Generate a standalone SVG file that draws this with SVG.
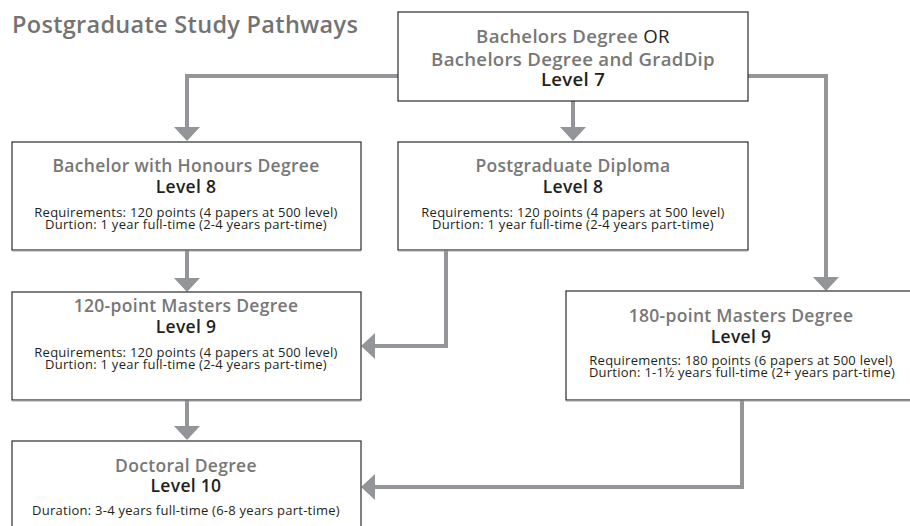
<svg xmlns="http://www.w3.org/2000/svg" width="910" height="526" viewBox="0 0 910 526">
  <defs>
    <marker id="ah" viewBox="0 0 14 26" markerWidth="14" markerHeight="26" refX="0" refY="13" orient="auto" markerUnits="userSpaceOnUse">
      <path d="M0,0 L14,13 L0,26 z" fill="#939598"/>
    </marker>
  </defs>
  <style>
    text { font-family: "Open Sans", "Noto Sans", "Liberation Sans", sans-serif; text-anchor: middle; }
    .box { fill: #ffffff; stroke: #2b2b2b; stroke-width: 1.2; }
    .shadow { stroke: #a0a0a0; stroke-width: 1; }
    .ttl { font-weight: 600; font-size: 17.5px; letter-spacing: 0.3px; fill: #777777; }
    .lvl { font-weight: 600; font-size: 17.5px; letter-spacing: 0.3px; fill: #231f20; }
    .big { font-size: 18.6px; }
    .body { font-weight: normal; font-size: 13px; letter-spacing: 0.25px; fill: #231f20; }
    .or { font-weight: normal; fill: #231f20; }
    .conn { fill: none; stroke: #939598; stroke-width: 4; stroke-linejoin: miter; marker-end: url(#ah); }
    .head { font-weight: 600; font-size: 23.5px; letter-spacing: 0.3px; fill: #737373; text-anchor: start; }
  </style>
  <rect width="910" height="526" fill="#ffffff"/>
  <text class="head" x="12" y="33">Postgraduate Study Pathways</text>

  <g id="connectors">
    <path class="conn" d="M398,76 H187 V127"/>
    <path class="conn" d="M573,101 V127"/>
    <path class="conn" d="M748,76 H826 V277"/>
    <path class="conn" d="M187,250 V278"/>
    <path class="conn" d="M446,250 V346 H375"/>
    <path class="conn" d="M187,400 V426"/>
    <path class="conn" d="M742,400 V487 H375"/>
  </g>

  <g id="bachelors">
    <rect class="box" x="398" y="12" width="350" height="89"/>
    <text><tspan class="ttl big" x="573" y="43">Bachelors Degree <tspan class="or">OR</tspan></tspan><tspan class="ttl big" x="573" y="66">Bachelors Degree and GradDip</tspan><tspan class="lvl big" x="573" y="86">Level 7</tspan></text>
  </g>

  <g id="honours">
    <rect class="box" x="12" y="142" width="349" height="108"/>
    <line class="shadow" x1="12" y1="251" x2="361" y2="251"/>
    <text><tspan class="ttl" x="186" y="172">Bachelor with Honours Degree</tspan><tspan class="lvl" x="186" y="193">Level 8</tspan><tspan class="body" x="186" y="217">Requirements: 120 points (4 papers at 500 level)</tspan><tspan class="body" x="186" y="229">Durtion: 1 year full-time (2-4 years part-time)</tspan></text>
  </g>

  <g id="pgdip">
    <rect class="box" x="398" y="142" width="350" height="108"/>
    <line class="shadow" x1="398" y1="251" x2="748" y2="251"/>
    <text><tspan class="ttl" x="573" y="172">Postgraduate Diploma</tspan><tspan class="lvl" x="573" y="193">Level 8</tspan><tspan class="body" x="573" y="217">Requirements: 120 points (4 papers at 500 level)</tspan><tspan class="body" x="573" y="229">Durtion: 1 year full-time (2-4 years part-time)</tspan></text>
  </g>

  <g id="masters120">
    <rect class="box" x="12" y="292" width="349" height="108"/>
    <line class="shadow" x1="12" y1="401" x2="361" y2="401"/>
    <text><tspan class="ttl" x="186" y="312">120-point Masters Degree</tspan><tspan class="lvl" x="186" y="333">Level 9</tspan><tspan class="body" x="186" y="357">Requirements: 120 points (4 papers at 500 level)</tspan><tspan class="body" x="186" y="368.5">Durtion: 1 year full-time (2-4 years part-time)</tspan></text>
  </g>

  <g id="masters180">
    <rect class="box" x="566" y="291" width="346" height="109"/>
    <line class="shadow" x1="566" y1="401" x2="910" y2="401"/>
    <text><tspan class="ttl" x="741" y="322">180-point Masters Degree</tspan><tspan class="lvl" x="741" y="343">Level 9</tspan><tspan class="body" x="741" y="365">Requirements: 180 points (6 papers at 500 level)</tspan><tspan class="body" x="742" y="377">Durtion: 1-1½ years full-time (2+ years part-time)</tspan></text>
  </g>

  <g id="doctoral">
    <rect class="box" x="12" y="441" width="349" height="100"/>
    <text><tspan class="ttl" x="186" y="472">Doctoral Degree</tspan><tspan class="lvl" x="186" y="492">Level 10</tspan><tspan class="body" x="186" y="515">Duration: 3-4 years full-time (6-8 years part-time)</tspan></text>
  </g>
</svg>
